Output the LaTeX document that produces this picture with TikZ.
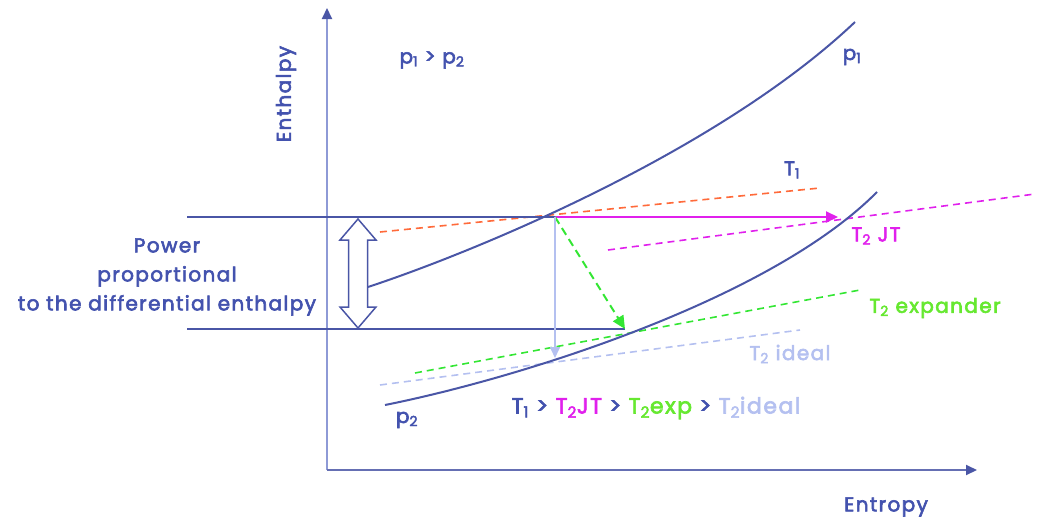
\documentclass[tikz,border=0pt]{standalone}
\usepackage{fontspec}
\setmainfont{Poppins}[FakeBold=3, LetterSpace=7]
\usetikzlibrary{arrows.meta}
\definecolor{dblue}{HTML}{4A56A6}
\definecolor{tblue}{HTML}{4352AE}
\definecolor{axblue}{HTML}{8E9AD6}
\definecolor{lblue}{HTML}{B4C0F0}
\definecolor{mag}{HTML}{E020EC}
\definecolor{grn}{HTML}{33E633}
\definecolor{tgrn}{HTML}{66E830}
\definecolor{org}{HTML}{FF6A3A}
\newcommand{\sbs}[1]{\textsubscript{#1}}
\tikzset{
  lbl/.style={font=\fontsize{20}{28}\selectfont, text=tblue, inner sep=0pt},
  curve/.style={draw=dblue, line width=2pt},
  hline/.style={draw=dblue, line width=1.3pt},
  dsh/.style={line width=1.6pt, dash pattern=on 7pt off 5pt},
}
\begin{document}
\begin{tikzpicture}[x=1pt,y=-1pt]
\useasboundingbox (0,0) rectangle (1039,522);
% axes
\coordinate (O) at (327,470);
\coordinate (Ytop) at (327,8);
\coordinate (Xend) at (977,470);
\draw[axblue, line width=2pt, -{Triangle[length=11pt,width=10pt,color=dblue]}] (O) -- (Ytop);
\draw[dblue!85, line width=2pt, -{Triangle[length=11pt,width=10pt,color=dblue]}] (O) -- (Xend);
\node[lbl, rotate=90] (ylab) at (286,94) {Enthalpy};
\node[lbl] (xlab) at (886,507) {Entropy};
\node[lbl] (cmp) at (432,60) {p\sbs{1} > p\sbs{2}};
% key points
\coordinate (A) at (555,217);
\coordinate (B) at (625,329);
\coordinate (C) at (838,217);
\coordinate (D) at (555,358);
\coordinate (L1) at (187,217);
\coordinate (L2) at (187,329);
% isotherms
\draw[org, dsh] (380,232) -- (820,188);
\draw[mag, dsh] (608,250) -- (1035,194);
\draw[grn, dsh] (415,373) -- (860,290);
\draw[lblue, dsh] (380,385) -- (800,330);
% horizontal lines
\draw[hline] (L1) -- (A);
\draw[hline] (L2) -- (B);
% isobars
\draw[curve] (368,287) .. controls (480,250) and (720,150) .. (855,22);
\draw[curve] (385,405) .. controls (520,378) and (770,300) .. (877,192);
% process arrows
\draw[mag, line width=2pt, -{Triangle[length=12pt,width=11pt]}] (A) -- (C);
\draw[grn, line width=2pt, dash pattern=on 8pt off 5pt, -{Triangle[length=13pt,width=12pt]}] (A) -- (B);
\draw[lblue, line width=1.6pt, -{Triangle[length=11pt,width=10pt]}] (A) -- (D);
% hollow double arrow
\draw[dblue, line width=1.5pt, fill=white, line join=miter]
  (358,219) -- (376,240) -- (367.5,240) -- (367.5,307) -- (376,307) -- (358,328)
  -- (340,307) -- (348.5,307) -- (348.5,240) -- (340,240) -- cycle;
% labels
\node[lbl, align=center, font=\fontsize{20}{29}\selectfont] (pw) at (167,277) {Power\\proportional\\to the differential enthalpy};
\node[lbl] (p1) at (852,57) {p\sbs{1}};
\node[lbl] (p2) at (407,420) {p\sbs{2}};
\node[lbl] (t1) at (792,170) {T\sbs{1}};
\node[lbl, text=mag] (t2jt) at (876,236) {T\sbs{2} JT};
\node[lbl, text=tgrn] (t2ex) at (935,308) {T\sbs{2} expander};
\node[lbl, text=lblue] (t2id) at (790,354) {T\sbs{2} ideal};
\node[lbl, font=\fontsize{22}{28}\selectfont] (ineq) at (656,408) {T\sbs{1} > \textcolor{mag}{T\sbs{2}JT} > \textcolor{tgrn}{T\sbs{2}exp} > \textcolor{lblue}{T\sbs{2}ideal}};
\end{tikzpicture}
\end{document}
